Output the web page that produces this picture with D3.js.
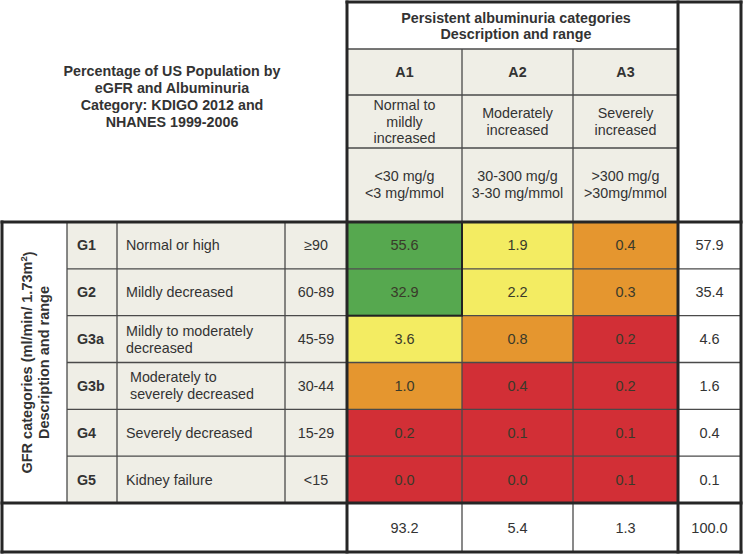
<!DOCTYPE html>
<html><head><meta charset="utf-8">
<script src="https://cdn.jsdelivr.net/npm/d3@7/dist/d3.min.js"></script>
<style>
html,body{margin:0;padding:0;background:#fff;}
svg{display:block;font-family:"Liberation Sans",Arial,Helvetica,sans-serif;}
</style></head>
<body><svg id="chart" width="743" height="554"></svg>
<script>
// ---------- data ----------
const titleLines = ["Percentage of US Population by","eGFR and Albuminuria","Category: KDIGO 2012 and","NHANES 1999-2006"];
const albHeader = ["Persistent albuminuria categories","Description and range"];
const albCodes = ["A1","A2","A3"];
const albDescriptions = [["Normal to","mildly","increased"],["Moderately","increased"],["Severely","increased"]];
const albRanges = [["<30 mg/g","<3 mg/mmol"],["30-300 mg/g","3-30 mg/mmol"],[">300 mg/g",">30mg/mmol"]];
const gfrHeader = ["GFR categories (ml/min/ 1.73m²)","Description and range"];
const gfrCodes = ["G1","G2","G3a","G3b","G4","G5"];
const gfrDescriptions = [["Normal or high"],["Mildly decreased"],["Mildly to moderately","decreased"],["Moderately to","severely decreased"],["Severely decreased"],["Kidney failure"]];
const gfrRanges = ["≥90","60-89","45-59","30-44","15-29","<15"];
const values = [
  [55.6,1.9,0.4],
  [32.9,2.2,0.3],
  [3.6,0.8,0.2],
  [1.0,0.4,0.2],
  [0.2,0.1,0.1],
  [0.0,0.0,0.1]
];
const riskLevels = [
  ["low","moderate","high"],
  ["low","moderate","high"],
  ["moderate","high","veryhigh"],
  ["high","veryhigh","veryhigh"],
  ["veryhigh","veryhigh","veryhigh"],
  ["veryhigh","veryhigh","veryhigh"]
];
const rowTotals = [57.9,35.4,4.6,1.6,0.4,0.1];
const colTotals = [93.2,5.4,1.3];
const grandTotal = 100.0;

// ---------- layout ----------
const svg = d3.select("#chart");
const TXT = "#333";
const BEIGE = "#efeee6";
const FS = 14.3;
const color = d3.scaleOrdinal()
  .domain(["low","moderate","high","veryhigh"])
  .range(["#56a84f","#f3ec62","#e5962f","#d22f36"]);

const L = 2, R = 741, T = 2, B = 552;
const xData = d3.scaleLinear().domain([0,1,2,3]).range([347,462,573,678]);
const y = d3.scaleBand().domain(gfrCodes).range([222,503]);
const hdr = {top:T, title:49, code:95, desc:148, range:222};
const leftCols = {label:L, code:67, desc:117, range:285, end:347};
const totalY = [503, B];
const fmt = d3.format(".1f");

svg.append("rect").attr("x",0).attr("y",0).attr("width",743).attr("height",554).attr("fill","#fff");
svg.append("rect").attr("x",xData(0)).attr("y",hdr.title).attr("width",xData(3)-xData(0)).attr("height",hdr.range-hdr.title).attr("fill",BEIGE);
svg.append("rect").attr("x",leftCols.code).attr("y",y.range()[0]).attr("width",leftCols.end-leftCols.code).attr("height",y.range()[1]-y.range()[0]).attr("fill",BEIGE);

// data cells
const cells = [];
values.forEach((row,i)=>row.forEach((v,j)=>cells.push({r:gfrCodes[i],c:j,v,risk:riskLevels[i][j]})));
svg.append("g").selectAll("rect").data(cells).join("rect")
  .attr("x",d=>xData(d.c)).attr("y",d=>y(d.r))
  .attr("width",d=>xData(d.c+1)-xData(d.c)).attr("height",y.bandwidth())
  .attr("fill",d=>color(d.risk));
svg.append("g").selectAll("text").data(cells).join("text")
  .attr("x",d=>(xData(d.c)+xData(d.c+1))/2).attr("y",d=>y(d.r)+y.bandwidth()/2)
  .attr("dy","0.35em").attr("text-anchor","middle").attr("font-size",14.5).attr("fill","#3a3a2a")
  .text(d=>fmt(d.v));

// thin grid lines
const thin = svg.append("g").attr("stroke","#4a4a4a").attr("stroke-width",1.3);
function line(g,x1,y1,x2,y2){g.append("line").attr("x1",x1).attr("y1",y1).attr("x2",x2).attr("y2",y2);}
[hdr.title,hdr.code,hdr.desc].forEach(yy=>line(thin,xData(0),yy,xData(3),yy));
[1,2].forEach(k=>line(thin,xData(k),hdr.title,xData(k),hdr.range));
gfrCodes.slice(1).forEach(g=>line(thin,leftCols.code,y(g),R,y(g)));
[1,2].forEach(k=>line(thin,xData(k),y.range()[0],xData(k),B));
[leftCols.code,leftCols.desc,leftCols.range].forEach(xx=>line(thin,xx,y.range()[0],xx,y.range()[1]));

// green block border
svg.append("rect").attr("x",xData(0)).attr("y",y("G1")).attr("width",xData(1)-xData(0)).attr("height",y("G3a")-y("G1"))
  .attr("fill","none").attr("stroke","#222").attr("stroke-width",2);

// thick lines
const thick = svg.append("g").attr("stroke","#262626").attr("stroke-width",3).attr("stroke-linecap","square");
line(thick,xData(0),T,R,T);
line(thick,R,T,R,B);
line(thick,L,B,R,B);
line(thick,L,y.range()[0],L,B);
line(thick,L,y.range()[0],R,y.range()[0]);
line(thick,L,y.range()[1],R,y.range()[1]);
line(thick,xData(0),T,xData(0),B);
line(thick,xData(3),T,xData(3),B);

// ---------- text ----------
function multi(g,lines,x,cy,lh,attrs){
  const t = g.append("text").attr("x",x).attr("text-anchor",attrs.anchor||"middle")
    .attr("font-size",attrs.size||FS).attr("font-weight",attrs.weight||"normal").attr("fill",TXT);
  const y0 = cy - (lines.length-1)*lh/2;
  lines.forEach((s,i)=>t.append("tspan").attr("x",x).attr("y",y0+i*lh).attr("dy","0.35em").text(s));
  return t;
}
const tg = svg.append("g");
multi(tg,titleLines,172,96.5,17,{weight:"bold",size:14.3});
multi(tg,albHeader,516,26,16.5,{weight:"bold",size:14.3});
albCodes.forEach((c,j)=>{
  const cx=(xData(j)+xData(j+1))/2;
  multi(tg,[c],cx,(hdr.title+hdr.code)/2,16,{weight:"bold"});
  multi(tg,albDescriptions[j],cx,(hdr.code+hdr.desc)/2,16.5,{});
  multi(tg,albRanges[j],cx,(hdr.desc+hdr.range)/2-1,17,{});
});
gfrCodes.forEach((g,i)=>{
  const cy=y(g)+y.bandwidth()/2;
  multi(tg,[g],77,cy,16,{weight:"bold",anchor:"start"});
  multi(tg,gfrDescriptions[i],g==="G3b"?130:126,cy,17,{anchor:"start"});
  multi(tg,[gfrRanges[i]],(leftCols.range+leftCols.end)/2,cy,16,{});
  multi(tg,[fmt(rowTotals[i])],(xData(3)+R)/2,cy,16,{size:14.5});
});
colTotals.forEach((v,j)=>multi(tg,[fmt(v)],(xData(j)+xData(j+1))/2,(totalY[0]+totalY[1])/2,16,{size:14.5}));
multi(tg,[fmt(grandTotal)],(xData(3)+R)/2,(totalY[0]+totalY[1])/2,16,{size:14.5});

// rotated GFR label
const lg = svg.append("g").attr("transform",`translate(${(L+leftCols.code)/2},${(y.range()[0]+y.range()[1])/2}) rotate(-90)`);
const lt = lg.append("text").attr("text-anchor","middle").attr("font-size",14.5).attr("font-weight","bold").attr("fill",TXT);
const l1 = lt.append("tspan").attr("x",0).attr("y",-8).attr("dy","0.35em");
l1.append("tspan").text("GFR categories (ml/min/ 1.73m");
l1.append("tspan").attr("font-size",9.5).attr("dy","-0.45em").text("2");
l1.append("tspan").attr("dy","0.45em").text(")");
lt.append("tspan").attr("x",0).attr("y",9).attr("dy","0.35em").text("Description and range");
</script></body></html>
